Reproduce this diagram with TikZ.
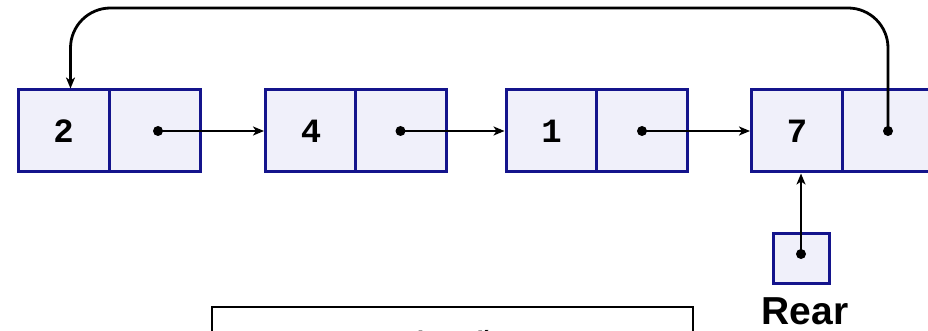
\documentclass[tikz,border=0pt]{standalone}
\usepackage{fontspec}
\setmainfont{Liberation Sans}
\newfontfamily\digitfont{Liberation Mono}
\usetikzlibrary{arrows.meta}
\definecolor{navy}{RGB}{20,20,140}
\definecolor{cellfill}{RGB}{240,240,250}
\begin{document}
\begin{tikzpicture}[x=1pt,y=-1pt,
  cell/.style={draw=navy, line width=3pt, fill=cellfill, minimum width=91pt, minimum height=82pt, inner sep=0pt},
  ptr/.style={line width=2.8pt, -{Stealth[length=11pt,width=9pt,inset=3pt]}},
  dotc/.style={circle, fill=black, inner sep=0pt, minimum size=10pt},
  val/.style={font=\digitfont\bfseries\fontsize{34}{34}\selectfont}]
\useasboundingbox (0,0) rectangle (928,331);
\clip (0,0) rectangle (928,331);
\fill[white] (0,0) rectangle (928,331);
% list nodes
\node[cell, val] (d1) at (63.5,131) {2};
\node[cell] (p1) at (155,131) {};
\node[cell, val] (d2) at (311,131) {4};
\node[cell] (p2) at (400.5,131) {};
\node[cell, val] (d3) at (551.5,131) {1};
\node[cell] (p3) at (642,131) {};
\node[cell, val] (d4) at (797,131) {7};
\node[cell] (p4) at (888,131) {};
% pointer dots
\node[dotc] (q1) at ([xshift=3pt]p1.center) {};
\node[dotc] (q2) at (p2.center) {};
\node[dotc] (q3) at (p3.center) {};
\node[dotc] (q4) at (p4.center) {};
% links
\draw[ptr] (q1.center) -- (d2.west);
\draw[ptr] (q2.center) -- (d3.west);
\draw[ptr] (q3.center) -- (d4.west);
% loop back
\coordinate (top) at (0,8);
\coordinate (in1) at ([xshift=7pt]d1.north);
\draw[ptr, rounded corners=40pt] (q4.center) -- (q4.center |- top) -- (in1 |- top) -- (in1);
% rear pointer
\node[cell, minimum width=56pt, minimum height=50pt] (rear) at (801,258) {};
\node[dotc] (q5) at ([yshift=4pt]rear.center) {};
\draw[ptr] (q5.center) -- (q5.center |- d4.south);
\node[anchor=base, font=\bfseries\fontsize{39}{39}\selectfont, inner sep=0pt, text depth=0pt] (lbl) at (805,324) {Rear};
% caption box (cut off at the bottom)
\node[draw, line width=2pt, anchor=north west, minimum width=481pt, minimum height=100pt] (box) at (211,306) {};
\node[anchor=base west, inner sep=0pt, font=\bfseries\fontsize{30}{30}\selectfont] (cap) at (235,353) {\textcolor{red}{Danh sách} liên kết vòng};
\end{tikzpicture}
\end{document}
